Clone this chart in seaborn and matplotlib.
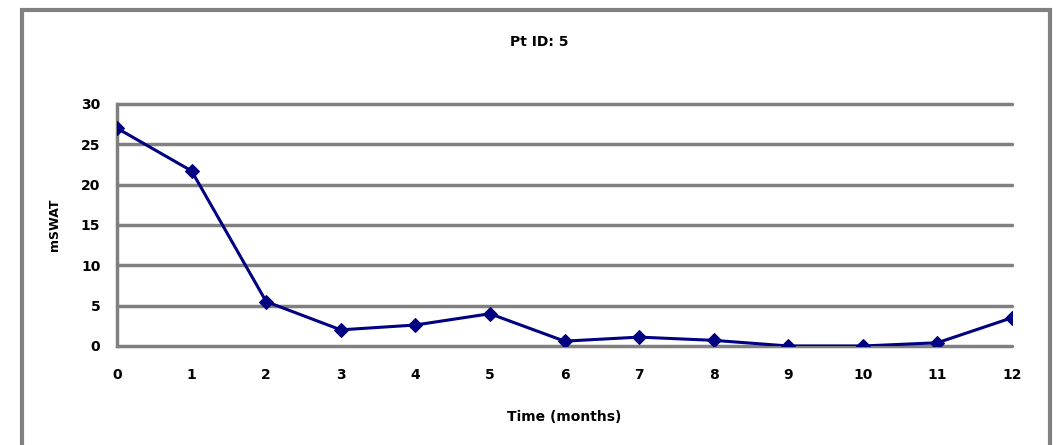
import matplotlib
matplotlib.use("Agg")
import matplotlib.pyplot as plt
from matplotlib.patches import Rectangle
import pandas as pd
import seaborn as sns

months = [0, 1, 2, 3, 4, 5, 6, 7, 8, 9, 10, 11, 12]
mswat = [27.0, 21.7, 5.5, 2.0, 2.6, 4.0, 0.6, 1.1, 0.7, 0.0, 0.0, 0.4, 3.5]
yticks = [0, 5, 10, 15, 20, 25, 30]

df = pd.DataFrame({"month": months, "mswat": mswat})

sns.set_style("white")
plt.rcParams['font.family'] = ['DejaVu Sans']
plt.rcParams['text.color'] = 'black'
plt.rcParams['axes.labelcolor'] = 'black'
plt.rcParams['xtick.labelcolor'] = 'black'
plt.rcParams['ytick.labelcolor'] = 'black'

fig = plt.figure(figsize=(10.61, 4.45), dpi=100)
ax = fig.add_axes([0.1103, 0.2225, 0.8435, 0.5438])

sns.lineplot(data=df, x="month", y="mswat", ax=ax, color="#000080",
             linewidth=2.2, marker="D", markersize=7, markeredgecolor="#000080",
             zorder=5)

ax.set_xlim(0, 12)
ax.set_ylim(0, 30)
ax.set_xticks(months)
ax.set_yticks(yticks)
ax.grid(axis="y", color="#808080", linewidth=2.5)
ax.set_axisbelow(True)
for gl in ax.get_ygridlines():
    gl.set_clip_on(False)

for s in ["top", "right", "bottom"]:
    ax.spines[s].set_visible(False)
ax.spines["left"].set_color("#808080")
ax.spines["left"].set_linewidth(2.5)

ax.tick_params(axis="x", direction="out", length=8, width=2.5, color="#808080",
               pad=8, labelsize=10)
ax.tick_params(axis="y", length=0, pad=12, labelsize=10)
for lbl in ax.get_xticklabels() + ax.get_yticklabels():
    lbl.set_fontweight("bold")

ax.set_xlabel("Time (months)", fontsize=10, fontweight="bold", labelpad=20)
ax.set_ylabel("mSWAT", fontsize=9, fontweight="bold", labelpad=14)
fig.text(539 / 1061, 1 - 42 / 445, "Pt ID: 5", fontsize=10, fontweight="bold",
         ha="center", va="center")

# chart border like the spreadsheet frame
fig.add_artist(Rectangle((22 / 1061, -0.1), (1050 - 22) / 1061, 1.1 - 10 / 445,
                         transform=fig.transFigure, fill=False,
                         edgecolor="#808080", linewidth=3, clip_on=False))

fig.savefig("out.png", dpi=100)
